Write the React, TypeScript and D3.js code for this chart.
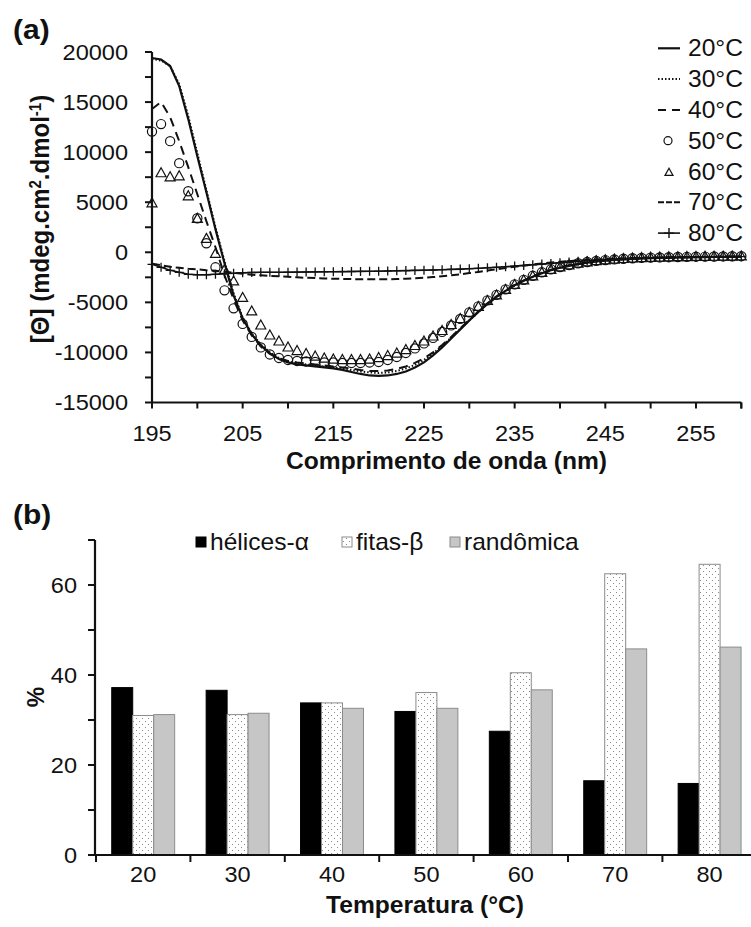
import React from 'react';
import * as d3 from 'd3';

// ---------- Panel (a) data: CD spectra ----------
const WAVELENGTH = [
  195, 196, 197, 198, 199, 200, 201, 202, 203, 204, 205, 206, 207, 208, 209, 210, 211,
  212, 213, 214, 215, 216, 217, 218, 219, 220, 221, 222, 223, 224, 225, 226, 227, 228,
  229, 230, 231, 232, 233, 234, 235, 236, 237, 238, 239, 240, 241, 242, 243, 244, 245,
  246, 247, 248, 249, 250, 251, 252, 253, 254, 255, 256, 257, 258, 259, 260,
];

const T20 = [
  19400, 19250, 18600, 16600, 13300, 9600, 6000, 2300, -1100, -4300, -6600, -8200, -9300,
  -10100, -10650, -11000, -11200, -11300, -11400, -11500, -11600, -11750, -11950, -12150,
  -12300, -12350, -12300, -12150, -11900, -11500, -11000, -10300, -9500, -8600, -7700,
  -6800, -5950, -5150, -4450, -3850, -3300, -2850, -2450, -2100, -1800, -1550, -1350,
  -1180, -1040, -920, -830, -760, -700, -650, -610, -580, -560, -540, -520, -505, -490,
  -480, -470, -460, -450, -440,
];
const T30 = [
  19300, 19150, 18600, 16800, 13600, 9900, 6200, 2500, -900, -4100, -6500, -8100, -9200,
  -10000, -10550, -10900, -11100, -11200, -11300, -11400, -11500, -11600, -11750, -11900,
  -12000, -12050, -12000, -11850, -11600, -11250, -10750, -10100, -9350, -8500, -7650,
  -6800, -5950, -5150, -4450, -3850, -3300, -2850, -2450, -2100, -1800, -1550, -1350,
  -1180, -1040, -920, -830, -760, -700, -650, -610, -580, -560, -540, -520, -505, -490,
  -480, -470, -460, -450, -440,
];
const T40 = [
  14300, 15000, 13500, 11100, 8500, 5800, 3100, 500, -2300, -4700, -6800, -8300, -9400,
  -10150, -10600, -10850, -11000, -11100, -11200, -11300, -11400, -11500, -11600, -11750,
  -11850, -11850, -11800, -11650, -11400, -11050, -10600, -10000, -9250, -8450, -7600,
  -6750, -5900, -5100, -4400, -3800, -3250, -2800, -2400, -2050, -1750, -1500, -1300,
  -1150, -1020, -900, -810, -740, -680, -630, -600, -570, -550, -530, -510, -495, -480,
  -470, -460, -450, -440, -430,
];
const T50 = [
  12050, 12800, 11100, 8900, 6100, 3400, 900, -1500, -3800, -5600, -7150, -8450, -9500,
  -10200, -10550, -10750, -10850, -10900, -10950, -11000, -11000, -11050, -11050, -11050,
  -11000, -10950, -10750, -10450, -10050, -9600, -9100, -8550, -7950, -7300, -6650,
  -6000, -5400, -4800, -4250, -3700, -3200, -2750, -2350, -2000, -1700, -1470, -1270,
  -1100, -970, -860, -780, -710, -650, -600, -560, -530, -510, -490, -470, -455, -440,
  -430, -420, -410, -400, -390,
];
const T60 = [
  4900, 7900, 7500, 7600, 5600, 3350, 1350, -150, -1750, -2900, -4550, -5900, -7300,
  -8300, -8900, -9500, -9850, -10150, -10400, -10600, -10700, -10750, -10750, -10750,
  -10700, -10550, -10350, -10100, -9750, -9350, -8900, -8400, -7850, -7250, -6650,
  -6050, -5450, -4850, -4300, -3750, -3250, -2800, -2400, -2050, -1750, -1500, -1300,
  -1130, -990, -880, -790, -720, -660, -610, -570, -540, -515, -495, -480, -465, -455,
  -445, -435, -425, -415, -405,
];
const T70 = [
  -1150, -1300, -1450, -1550, -1650, -1700, -1800, -1850, -1950, -2050, -2150, -2250,
  -2300, -2350, -2400, -2450, -2500, -2550, -2580, -2610, -2640, -2660, -2680, -2700,
  -2700, -2700, -2690, -2670, -2640, -2600, -2550, -2480, -2400, -2300, -2200, -2080,
  -1960, -1830, -1700, -1570, -1450, -1330, -1220, -1120, -1030, -950, -880, -820, -760,
  -710, -670, -630, -600, -570, -550, -530, -510, -495, -480, -470, -460, -450, -440,
  -430, -420, -410,
];
const T80 = [
  -1200, -1500, -1800, -2000, -2200, -2250, -2250, -2200, -2150, -2100, -2050, -2020,
  -2000, -2000, -2000, -1990, -1980, -1970, -1960, -1950, -1940, -1930, -1920, -1910,
  -1900, -1890, -1870, -1850, -1830, -1810, -1790, -1770, -1740, -1710, -1680, -1640,
  -1600, -1550, -1500, -1440, -1380, -1320, -1250, -1180, -1110, -1040, -970, -900, -840,
  -780, -730, -690, -650, -620, -590, -570, -550, -530, -515, -500, -490, -480, -470,
  -460, -450, -440,
];
const TEMP_LABELS = ['20°C', '30°C', '40°C', '50°C', '60°C', '70°C', '80°C'];
const Y_LABELS_A = [-15000, -10000, -5000, 0, 5000, 10000, 15000, 20000];
const X_LABELS_A = [195, 205, 215, 225, 235, 245, 255];

// ---------- Panel (b) data: secondary structure ----------
const BAR_CATEGORIES = ['20', '30', '40', '50', '60', '70', '80'];
const HELICES = [37.2, 36.6, 33.8, 31.9, 27.5, 16.5, 15.9];
const FITAS = [31.0, 31.2, 33.8, 36.1, 40.5, 62.5, 64.6];
const RANDOMICA = [31.2, 31.5, 32.6, 32.6, 36.7, 45.8, 46.2];
const BAR_SERIES = ['hélices-α', 'fitas-β', 'randômica'];
const Y_LABELS_B = [0, 20, 40, 60];

const FONT = "'Liberation Sans', Arial, Helvetica, sans-serif";
const SX = 1.07;
const INK = '#111';

function Label(props: any) {
  const { x, y, size, bold, anchor, rot, dy, children } = props;
  return (
    <text
      transform={`translate(${x},${y}) scale(${SX},1)${rot ? ` rotate(${rot})` : ''}`}
      fontSize={size}
      fontWeight={bold ? 'bold' : 'normal'}
      textAnchor={anchor || 'start'}
      dy={dy === undefined ? '0.35em' : dy}
      fontFamily={FONT}
      fill={INK}
    >
      {children}
    </text>
  );
}

function Triangle({ cx, cy, s, sw }: any) {
  const h = s * 0.9;
  return (
    <path
      d={`M${cx},${cy - h * 0.6} L${cx + s / 2},${cy + h * 0.4} L${cx - s / 2},${cy + h * 0.4} Z`}
      fill="none"
      stroke={INK}
      strokeWidth={sw}
    />
  );
}

function Plus({ cx, cy, r, sw }: any) {
  return (
    <path d={`M${cx - r},${cy} H${cx + r} M${cx},${cy - r} V${cy + r}`} stroke={INK} strokeWidth={sw} fill="none" />
  );
}

export default function App() {
  // ----- scales panel (a)
  const xA = d3.scaleLinear().domain([195, 260]).range([152, 741.3]);
  const yA = d3.scaleLinear().domain([-15000, 20000]).range([402.5, 52]);
  const line = (vals: number[]) =>
    d3
      .line<number>()
      .x((_, i) => xA(WAVELENGTH[i]))
      .y((v) => yA(v))(vals) || '';

  const yMinorA = d3.range(-15000, 20001, 2500);
  const xMinorA = d3.range(195, 261, 5);

  // ----- scales panel (b)
  const xB = d3.scaleBand<string>().domain(BAR_CATEGORIES).range([96, 756.8]).padding(0);
  const yB = d3.scaleLinear().domain([0, 70]).range([855, 540]);
  const bw = xB.bandwidth();
  const barW = bw / 4.5;
  const seriesVals = [HELICES, FITAS, RANDOMICA];
  const barFill = ['#000', 'url(#dots)', '#c6c6c6'];
  const barStroke = ['#000', '#8c8c8c', '#8c8c8c'];

  const legendY = (i: number) => 48.3 + i * 30.8;

  return (
    <svg
      width={751}
      height={927}
      style={{ position: 'absolute', left: 0, top: 0, display: 'block', background: '#fff' }}
    >
      <defs>
        <pattern id="dots" width="6" height="6" patternUnits="userSpaceOnUse">
          <rect width="6" height="6" fill="#fff" />
          <rect x="1" y="1" width="1" height="1" fill="#8a8a8a" />
          <rect x="4" y="4" width="1" height="1" fill="#8a8a8a" />
        </pattern>
      </defs>
      <rect width={751} height={927} fill="#fff" />

      {/* ================= Panel (a) ================= */}
      <Label x={13} y={39} size={28} bold dy="0">(a)</Label>

      {/* series */}
      <path d={line(T70)} fill="none" stroke={INK} strokeWidth={2} strokeDasharray="8 4" />
      <path d={line(T80)} fill="none" stroke={INK} strokeWidth={1.6} />
      {T80.map((v, i) => (
        <Plus key={'p' + i} cx={xA(WAVELENGTH[i])} cy={yA(v)} r={4.5} sw={1.3} />
      ))}
      <path d={line(T20)} fill="none" stroke={INK} strokeWidth={2.2} />
      <path d={line(T30)} fill="none" stroke={INK} strokeWidth={2} strokeDasharray="1.5 2" />
      <path d={line(T40)} fill="none" stroke={INK} strokeWidth={2} strokeDasharray="9 6" />
      {T50.map((v, i) => (
        <circle key={'c' + i} cx={xA(WAVELENGTH[i])} cy={yA(v)} r={4.6} fill="none" stroke={INK} strokeWidth={1.2} />
      ))}
      {T60.map((v, i) => (
        <Triangle key={'t' + i} cx={xA(WAVELENGTH[i])} cy={yA(v)} s={10} sw={1.2} />
      ))}

      {/* axes (a) */}
      <line x1={152} x2={152} y1={yA(20000)} y2={yA(-15000)} stroke={INK} strokeWidth={2.2} />
      <line x1={152} x2={xA(260)} y1={yA(-15000)} y2={yA(-15000)} stroke={INK} strokeWidth={2.2} />
      {yMinorA.map((v) => (
        <line key={'ya' + v} x1={145} x2={152} y1={yA(v)} y2={yA(v)} stroke={INK} strokeWidth={2} />
      ))}
      {xMinorA.map((v) => (
        <line key={'xa' + v} x1={xA(v)} x2={xA(v)} y1={yA(-15000)} y2={yA(-15000) + 6} stroke={INK} strokeWidth={2} />
      ))}
      <line x1={xA(260)} x2={xA(260)} y1={yA(-15000)} y2={yA(-15000) + 6} stroke={INK} strokeWidth={2} />
      {Y_LABELS_A.map((v) => (
        <Label key={'yl' + v} x={128} y={yA(v)} size={22} anchor="end">{v}</Label>
      ))}
      {X_LABELS_A.map((v) => (
        <Label key={'xl' + v} x={xA(v)} y={433} size={22} anchor="middle">{v}</Label>
      ))}
      <Label x={446.5} y={461} size={23} bold anchor="middle">Comprimento de onda (nm)</Label>
      <Label x={40} y={219} size={24} bold anchor="middle" rot={-90}>
        [Θ] (mdeg.cm<tspan baselineShift="super" fontSize="15">2</tspan>.dmol
        <tspan baselineShift="super" fontSize="15">-1</tspan>)
      </Label>

      {/* legend (a) */}
      {TEMP_LABELS.map((t, i) => (
        <Label key={'lg' + t} x={688} y={legendY(i)} size={23}>{t}</Label>
      ))}
      <line x1={658} x2={680} y1={legendY(0)} y2={legendY(0)} stroke={INK} strokeWidth={2.2} />
      <line x1={658} x2={680} y1={legendY(1)} y2={legendY(1)} stroke={INK} strokeWidth={2} strokeDasharray="1.5 2" />
      <line x1={658} x2={680} y1={legendY(2)} y2={legendY(2)} stroke={INK} strokeWidth={2} strokeDasharray="8 6" />
      <circle cx={668} cy={legendY(3)} r={4} fill="none" stroke={INK} strokeWidth={1.2} />
      <Triangle cx={669} cy={legendY(4) + 1} s={8} sw={1.2} />
      <line x1={658} x2={680} y1={legendY(5)} y2={legendY(5)} stroke={INK} strokeWidth={2} strokeDasharray="6 2" />
      <line x1={658} x2={680} y1={legendY(6)} y2={legendY(6)} stroke={INK} strokeWidth={1.6} />
      <Plus cx={669} cy={legendY(6)} r={5} sw={1.4} />

      {/* ================= Panel (b) ================= */}
      <Label x={13} y={524} size={28} bold dy="0">(b)</Label>

      {BAR_CATEGORIES.map((c, ci) => (
        <g key={'g' + c}>
          {seriesVals.map((vals, si) => (
            <rect
              key={'b' + si}
              x={(xB(c) || 0) + 0.75 * barW + si * barW}
              y={yB(vals[ci])}
              width={barW}
              height={yB(0) - yB(vals[ci])}
              fill={barFill[si]}
              stroke={barStroke[si]}
              strokeWidth={1}
            />
          ))}
        </g>
      ))}

      {/* axes (b) */}
      <line x1={95} x2={95} y1={yB(70)} y2={yB(0)} stroke={INK} strokeWidth={2.2} />
      <line x1={95} x2={756.8} y1={yB(0)} y2={yB(0)} stroke={INK} strokeWidth={2.2} />
      {d3.range(0, 71, 10).map((v) => (
        <line key={'yb' + v} x1={88} x2={95} y1={yB(v)} y2={yB(v)} stroke={INK} strokeWidth={2} />
      ))}
      {BAR_CATEGORIES.map((c) => (
        <line key={'xb' + c} x1={xB(c)} x2={xB(c)} y1={yB(0)} y2={yB(0) + 7} stroke={INK} strokeWidth={2} />
      ))}
      {Y_LABELS_B.map((v) => (
        <Label key={'ylb' + v} x={77} y={yB(v)} size={22} anchor="end">{v}</Label>
      ))}
      {BAR_CATEGORIES.map((c) => (
        <Label key={'xlb' + c} x={(xB(c) || 0) + bw / 2} y={874} size={22} anchor="middle">{c}</Label>
      ))}
      <Label x={425} y={905} size={23} bold anchor="middle">Temperatura (°C)</Label>
      <Label x={35} y={697} size={23} bold anchor="middle" rot={-90}>%</Label>

      {/* legend (b) */}
      <rect x={196} y={537} width={10} height={10} fill="#000" stroke="#000" />
      <Label x={210} y={542} size={23}>{BAR_SERIES[0]}</Label>
      <rect x={342} y={537} width={10} height={10} fill="url(#dots)" stroke="#8c8c8c" />
      <Label x={356} y={542} size={23}>{BAR_SERIES[1]}</Label>
      <rect x={450} y={537} width={10} height={10} fill="#c6c6c6" stroke="#8c8c8c" />
      <Label x={464} y={542} size={23}>{BAR_SERIES[2]}</Label>
    </svg>
  );
}
